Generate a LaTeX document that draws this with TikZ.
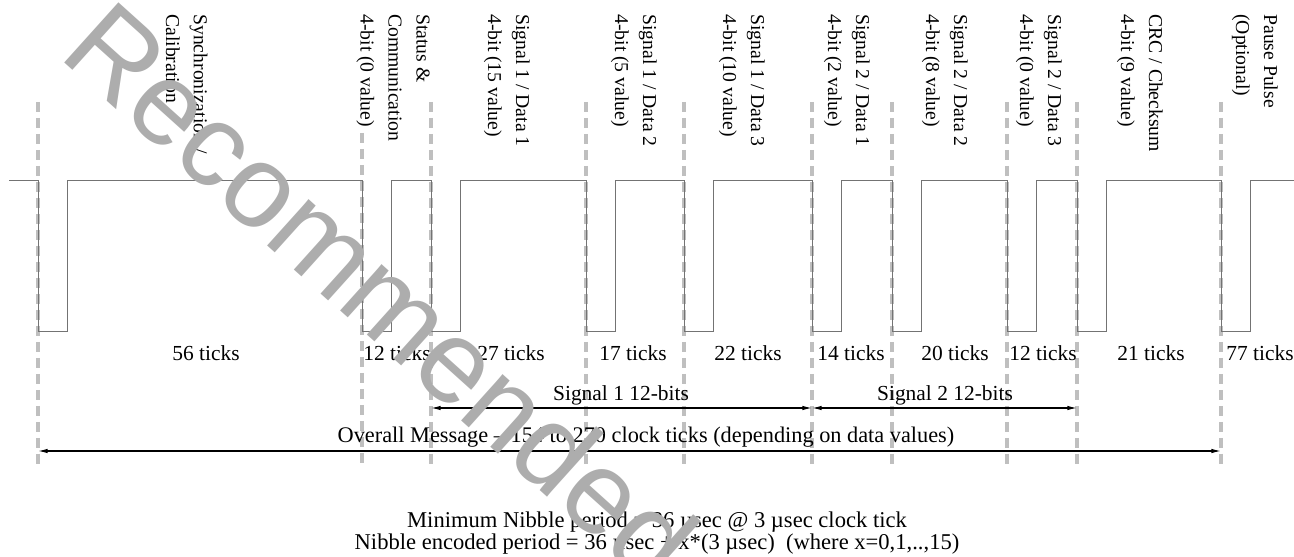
\documentclass[tikz,border=0pt]{standalone}
\usepackage{fontspec}
\setmainfont{Liberation Serif}
\newfontfamily\wmfont{Liberation Sans}
\usetikzlibrary{arrows.meta}
\tikzset{
  field/.style={rotate=-90,anchor=north west,inner sep=0pt,align=left,
    font=\fontsize{11.2}{15.9}\selectfont},
  ticklbl/.style={inner sep=0pt,font=\fontsize{12.2}{14}\selectfont},
  note/.style={inner sep=0pt,align=center,font=\fontsize{12.85}{11.4}\selectfont},
  gap/.style={draw=black!25,line width=1.8pt,dash pattern=on 5.7pt off 3.4pt},
  wave/.style={draw=black!55,line width=0.55pt},
  span/.style={{Latex[length=5.5pt,width=2.6pt]}-{Latex[length=5.5pt,width=2.6pt]},line width=0.7pt},
  wmark/.style={rotate=-42,text=black!32,font=\wmfont\fontsize{67}{67}\selectfont},
}
\begin{document}
\begin{tikzpicture}[x=0.02cm,y=-0.02cm]
  \useasboundingbox (0,0) rectangle (1294,557);
  % nibble boundaries
  \foreach \x/\n/\top in {38/0/102,362/1/133,431/2/102,586/3/102,684/4/102,
      812/5/102,892/6/102,1007/7/102,1077/8/102,1221/9/102}{
    \draw[gap] (\x,\top) -- (\x,465);
    \coordinate (g\n) at (\x,0);
  }
  % the pulse train
  \draw[wave] (9,180)
    \foreach \f in {38,362,431,586,684,812,892,1007,1077,1221}{
      -- (\f,180) -- (\f,331) -- ({\f+29},331) -- ({\f+29},180)}
    -- (1294,180);
  % field names
  \draw
    (208,14) node[field] (sync){Synchronization /\\Calibration}
    (430,14) node[field] (stat){Status \&\\Communication\\4-bit (0 value)}
    (530,14) node[field] (d11){Signal 1 / Data 1\\4-bit (15 value)}
    (657,14) node[field] (d12){Signal 1 / Data 2\\4-bit (5 value)}
    (765,14) node[field] (d13){Signal 1 / Data 3\\4-bit (10 value)}
    (870,14) node[field] (d21){Signal 2 / Data 1\\4-bit (2 value)}
    (968,14) node[field] (d22){Signal 2 / Data 2\\4-bit (8 value)}
    (1062,14) node[field] (d23){Signal 2 / Data 3\\4-bit (0 value)}
    (1163,14) node[field] (crc){CRC / Checksum\\4-bit (9 value)}
    (1278,14) node[field] (pause){Pause Pulse\\(Optional)};
  % tick counts
  \draw
    (206,353) node[ticklbl] (k0){56 ticks}
    (397,353) node[ticklbl] (k1){12 ticks}
    (511,353) node[ticklbl] (k2){27 ticks}
    (633,353) node[ticklbl] (k3){17 ticks}
    (748,353) node[ticklbl] (k4){22 ticks}
    (851,353) node[ticklbl] (k5){14 ticks}
    (955,353) node[ticklbl] (k6){20 ticks}
    (1043,353) node[ticklbl] (k7){12 ticks}
    (1151,353) node[ticklbl] (k8){21 ticks}
    (1260,353) node[ticklbl] (k9){77 ticks};
  % spans
  \coordinate (s1a) at (431,408);
  \coordinate (s1b) at (812,408);
  \coordinate (s2a) at (812,408);
  \coordinate (s2b) at (1077,408);
  \coordinate (ova) at (38,451);
  \coordinate (ovb) at (1221,451);
  \draw[span] (s1a) -- (s1b);
  \draw[span] (s2a) -- (s2b);
  \draw[span] (ova) -- (ovb);
  \draw
    (621,395) node[ticklbl] (sig1){Signal 1 12-bits}
    (945,395) node[ticklbl] (sig2){Signal 2 12-bits}
    (646,437) node[ticklbl,font=\fontsize{12.7}{14}\selectfont] (overall){Overall Message -- 154 to 270 clock ticks (depending on data values)};
  \node[note] (period) at (657,533)
    {Minimum Nibble period = 36 µsec @ 3 µsec clock tick\\
     Nibble encoded period = 36 µsec + x*(3 µsec) ~(where x=0,1,..,15)};
  \node[wmark] (wm) at (382,292) {Recommended};
\end{tikzpicture}
\end{document}
